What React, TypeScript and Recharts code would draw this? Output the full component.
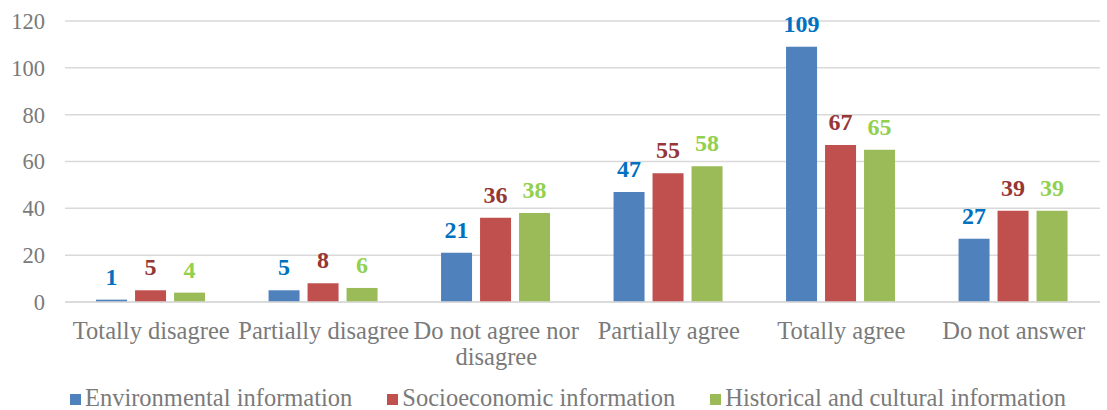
import { BarChart, Bar, XAxis, YAxis, CartesianGrid, Legend, LabelList } from "recharts";

const categories = [
  "Totally disagree",
  "Partially disagree",
  "Do not agree nor disagree",
  "Partially agree",
  "Totally agree",
  "Do not answer",
];
const environmental = [1, 5, 21, 47, 109, 27];
const socioeconomic = [5, 8, 36, 55, 67, 39];
const historical = [4, 6, 38, 58, 65, 39];
const yTicks = [0, 20, 40, 60, 80, 100, 120];

const series = [
  { key: "env", name: "Environmental information", fill: "#4F81BD", label: "#0070C0", values: environmental },
  { key: "soc", name: "Socioeconomic information", fill: "#C0504D", label: "#953735", values: socioeconomic },
  { key: "his", name: "Historical and cultural information", fill: "#9BBB59", label: "#92D050", values: historical },
];

const data = categories.map((c, i) => ({
  name: c,
  env: environmental[i],
  soc: socioeconomic[i],
  his: historical[i],
}));

const FONT = "'Liberation Serif', 'Times New Roman', serif";
const GRAY = "#7a7a7a";

// greedy word wrap by character count
function wrap(text: string, max = 18) {
  const lines: string[] = [];
  let cur = "";
  for (const w of text.split(" ")) {
    const next = cur ? cur + " " + w : w;
    if (next.length > max && cur) {
      lines.push(cur);
      cur = w;
    } else cur = next;
  }
  if (cur) lines.push(cur);
  return lines;
}

function CategoryTick({ x, y, payload }: any) {
  const lines = wrap(payload.value);
  return (
    <text x={x} y={y} textAnchor="middle" fill={GRAY} fontSize={24.5} fontFamily={FONT}>
      {lines.map((l, i) => (
        <tspan key={i} x={x} dy={i === 0 ? 29 : 26}>{l}</tspan>
      ))}
    </text>
  );
}

function LegendContent() {
  return (
    <div style={{ display: "flex", justifyContent: "center", gap: 35, height: 30, alignItems: "center", fontFamily: FONT, fontSize: 24.5, color: GRAY, paddingLeft: 36, paddingTop: 6, boxSizing: "border-box" }}>
      {series.map((s) => (
        <div key={s.key} style={{ display: "flex", alignItems: "center", gap: 4 }}>
          <span style={{ display: "inline-block", width: 11, height: 11, background: s.fill, marginTop: 3 }} />
          <span>{s.name}</span>
        </div>
      ))}
    </div>
  );
}

export default function App() {
  return (
    <div style={{ position: "absolute", left: 0, top: 0, width: 1107, height: 410, background: "#fff" }}>
      <BarChart width={1107} height={410} data={data} margin={{ top: 21, right: 7, left: 0, bottom: 0 }} barCategoryGap="18%" barGap={8}>
        <CartesianGrid vertical={false} stroke="#d9d9d9" strokeWidth={1.5} />
        <XAxis dataKey="name" tick={<CategoryTick />} tickLine={false} axisLine={{ stroke: "#d9d9d9", strokeWidth: 1.5 }} height={78} interval={0} />
        <YAxis domain={[0, 120]} ticks={yTicks} width={65} tickLine={false} axisLine={false} tickSize={0} tickMargin={20}
          tick={{ fill: GRAY, fontSize: 22.5, fontFamily: FONT }} />
        <Legend verticalAlign="bottom" content={<LegendContent />} />
        {series.map((s) => (
          <Bar key={s.key} dataKey={s.key} name={s.name} fill={s.fill} isAnimationActive={false}>
            <LabelList dataKey={s.key} position="top" offset={15} fill={s.label} fontSize={24} fontWeight="bold" fontFamily={FONT} />
          </Bar>
        ))}
      </BarChart>
    </div>
  );
}
